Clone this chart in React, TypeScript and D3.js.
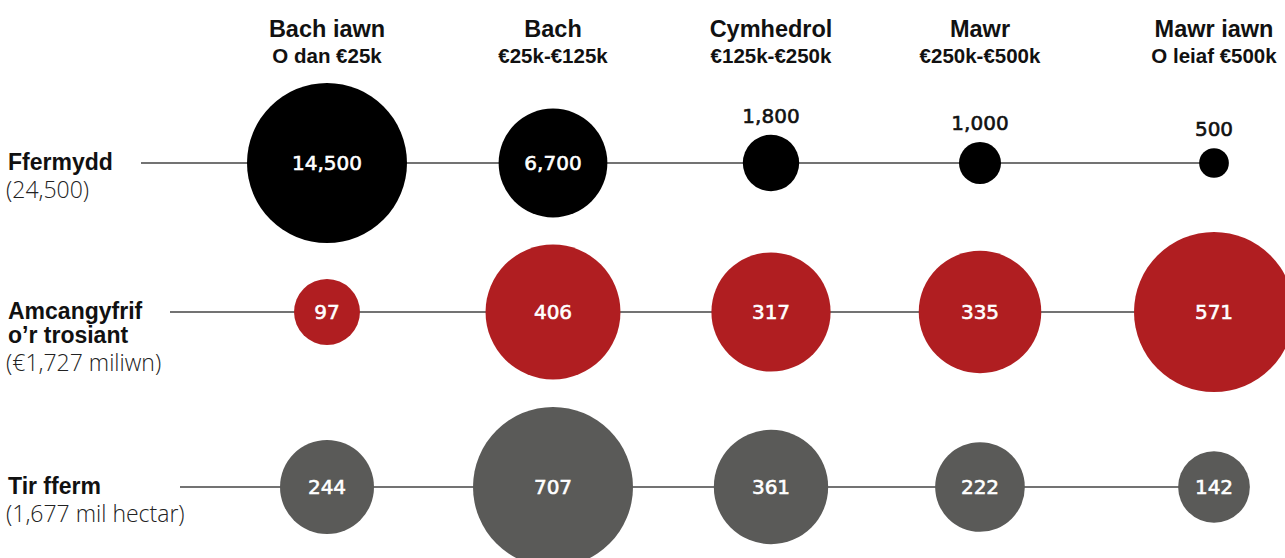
import React from 'react';
import * as d3 from 'd3';

// column categories (turnover size bands)
const sizeNames = ['Bach iawn', 'Bach', 'Cymhedrol', 'Mawr', 'Mawr iawn'];
const sizeBands = ['O dan €25k', '€25k-€125k', '€125k-€250k', '€250k-€500k', 'O leiaf €500k'];

// series values per row
const farms = [14500, 6700, 1800, 1000, 500];
const turnover = [97, 406, 317, 335, 571];
const farmland = [244, 707, 361, 222, 142];

const rowKeys = ['farms', 'turnover', 'farmland'];
const rowTitles = [['Ffermydd'], ['Amcangyfrif', 'o’r trosiant'], ['Tir fferm']];
const rowTotals = ['(24,500)', '(€1,727 miliwn)', '(1,677 mil hectar)'];
const rowValues = [farms, turnover, farmland];
const rowColors = ['#000000', '#b01e21', '#5a5a58'];

// layout
const WIDTH = 1285;
const HEIGHT = 558;
const MAX_R = 80;
const lineStarts = [141, 170, 180];

const HEAD_FONT = '"Liberation Sans", Arial, sans-serif';
const NUM_FONT = '"DejaVu Sans", Verdana, sans-serif';
const LIGHT_FONT = '"Open Sans", "Liberation Sans", sans-serif';

const fmt = d3.format(',');

export default function App() {
    const x = d3.scaleOrdinal<string, number>()
        .domain(sizeNames)
        .range([327, 553, 771, 980, 1214]);

    const y = d3.scaleOrdinal<string, number>()
        .domain(rowKeys)
        .range([163, 312, 487]);

    return (
        <svg width={WIDTH} height={HEIGHT}
            style={{ position: 'absolute', left: 0, top: 0, display: 'block', background: '#fff' }}>
            {/* column headings */}
            {sizeNames.map((name, i) => (
                <g key={name} transform={`translate(${x(name)},0)`}>
                    <text textAnchor="middle" y={37} fontFamily={HEAD_FONT} fontWeight={700}
                        fontSize={23.5} fill="#111">{name}</text>
                    <text textAnchor="middle" y={63} fontFamily={HEAD_FONT} fontWeight={700}
                        fontSize={20.5} fill="#111">{sizeBands[i]}</text>
                </g>
            ))}

            {rowKeys.map((key, ri) => {
                const values = rowValues[ri];
                const cy = y(key);
                // each row gets its own area scale
                const r = d3.scaleSqrt().domain([0, d3.max(values) as number]).range([0, MAX_R]);
                return (
                    <g key={key}>
                        <line x1={lineStarts[ri]} x2={x(sizeNames[sizeNames.length - 1])}
                            y1={cy} y2={cy} stroke="#444" strokeWidth={1.3} />
                        {rowTitles[ri].map((t, li) => (
                            <text key={t} x={8} y={cy + 7 + li * 24} fontFamily={HEAD_FONT}
                                fontWeight={700} fontSize={23} fill="#111">{t}</text>
                        ))}
                        <text x={6} y={cy + 7 + (rowTitles[ri].length - 1) * 24 + 28}
                            fontFamily={LIGHT_FONT} fontWeight={300} fontSize={23}
                            fill="#222">{rowTotals[ri]}</text>
                        {values.map((v, ci) => {
                            const cx = x(sizeNames[ci]);
                            const rad = r(v);
                            const label = fmt(v);
                            const outside = label.length * 11.5 > rad * 1.9;
                            const col = outside ? '#111' : '#fff';
                            return (
                                <g key={ci}>
                                    <circle cx={cx} cy={cy} r={rad} fill={rowColors[ri]} />
                                    <text x={cx} y={outside ? cy - rad - 12 : cy + 7}
                                        textAnchor="middle" fontFamily={NUM_FONT} fontWeight={400}
                                        fontSize={20} fill={col} stroke={col} strokeWidth={0.6}>{label}</text>
                                </g>
                            );
                        })}
                    </g>
                );
            })}
        </svg>
    );
}
